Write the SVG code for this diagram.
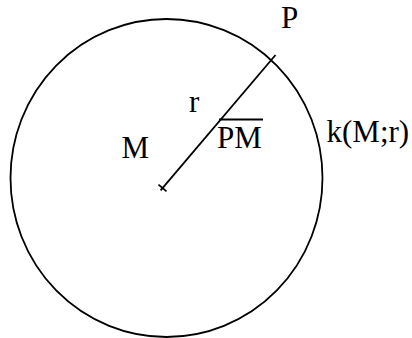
<svg xmlns="http://www.w3.org/2000/svg" width="412" height="338" viewBox="0 0 412 338">
<style>
.ln{fill:none;stroke:#000;stroke-width:1.8;stroke-linecap:butt}
.tx{font-family:"Liberation Serif","Times New Roman",serif;font-size:31px;fill:#000}
</style>
<rect width="412" height="338" fill="#fff"/>
<g id="circle-k">
<ellipse class="ln" cx="166.5" cy="178" rx="156" ry="159"/>
<text class="tx" x="326.5" y="142">k(M;r)</text>
</g>
<g id="point-M">
<line class="ln" x1="158.5" y1="184.6" x2="166.5" y2="191.4"/>
<text class="tx" x="121.5" y="157.5">M</text>
</g>
<g id="point-P">
<text class="tx" x="281" y="28">P</text>
</g>
<g id="connectors">
<line class="ln" x1="160.6" y1="190.3" x2="275.5" y2="55"/>
<text class="tx" x="189" y="111.5">r</text>
<text class="tx" x="217" y="148">PM</text>
<line class="ln" x1="219" y1="119.5" x2="263" y2="119.5" stroke-width="1.5"/>
</g>
</svg>
